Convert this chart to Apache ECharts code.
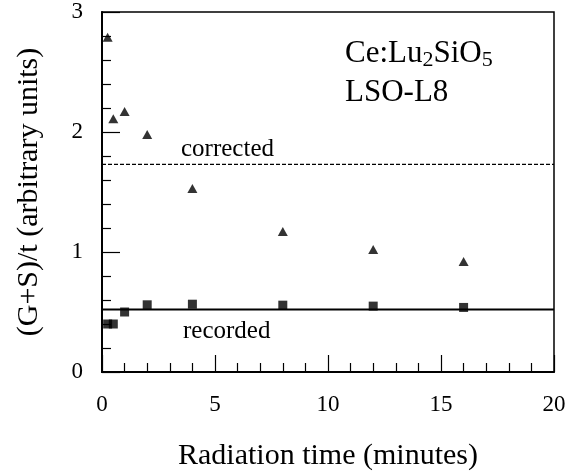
<!DOCTYPE html>
<html>
<head>
<meta charset="utf-8">
<script src="https://cdn.jsdelivr.net/npm/echarts@6/dist/echarts.min.js"></script>
<style>
  html, body { margin: 0; padding: 0; background: #fff; }
  #chart { width: 575px; height: 476px; }
</style>
</head>
<body>
<div id="chart"></div>
<script>
// radiation time (minutes)
const times = [0.25, 0.5, 1, 2, 4, 8, 12, 16]
// triangles
const triangleValues = [2.79, 2.11, 2.17, 1.98, 1.53, 1.17, 1.02, 0.92]
// squares
const squareValues = [0.40, 0.40, 0.50, 0.56, 0.565, 0.557, 0.549, 0.538]
// horizontal reference levels
const lineRange = [0, 20]
const correctedLevel = 1.73
const recordedLevel = 0.52

const xTicks = [0, 5, 10, 15, 20]
const yTicks = [0, 1, 2, 3]

const font = '"Liberation Serif", "DejaVu Serif", serif'

const pairs = (xs, ys) => xs.map((x, i) => [x, ys[i]])
const flat = (level) => lineRange.map(x => [x, level])

const chart = echarts.init(document.getElementById('chart'))

const option = {
  animation: false,
  backgroundColor: '#fff',
  grid: {
    left: 102,
    right: 21,
    top: 12,
    bottom: 103,
    show: true,
    borderColor: '#000',
    borderWidth: 1.5
  },
  xAxis: {
    type: 'value',
    min: xTicks[0],
    max: xTicks[xTicks.length - 1],
    interval: 5,
    name: 'Radiation time (minutes)',
    nameLocation: 'middle',
    nameGap: 69,
    nameTextStyle: { fontFamily: font, fontSize: 30, color: '#000' },
    axisLine: { lineStyle: { color: '#000', width: 2 } },
    axisTick: { inside: true, length: 17, lineStyle: { color: '#000', width: 1.2 } },
    minorTick: { show: true, splitNumber: 5, length: 9, lineStyle: { color: '#000', width: 1.2 } },
    axisLabel: { fontFamily: font, fontSize: 23, color: '#000', margin: 21 },
    splitLine: { show: false }
  },
  yAxis: {
    type: 'value',
    min: yTicks[0],
    max: yTicks[yTicks.length - 1],
    interval: 1,
    name: '(G+S)/t (arbitrary units)',
    nameLocation: 'middle',
    nameGap: 58,
    nameTextStyle: { fontFamily: font, fontSize: 30, color: '#000' },
    axisLine: { show: true, lineStyle: { color: '#000', width: 2 } },
    axisTick: { show: true, inside: true, length: 18, lineStyle: { color: '#000', width: 1.2 } },
    minorTick: { show: true, splitNumber: 5, length: 9, lineStyle: { color: '#000', width: 1.2 } },
    axisLabel: { fontFamily: font, fontSize: 23, color: '#000', margin: 19 },
    splitLine: { show: false }
  },
  graphic: [
    {
      type: 'text', left: 345, top: 38,
      style: {
        text: '{a|Ce:Lu}{b|2}{a|SiO}{b|5}',
        rich: {
          a: { fontFamily: font, fontSize: 31, lineHeight: 36, fill: '#000' },
          b: { fontFamily: font, fontSize: 22, lineHeight: 22, verticalAlign: 'bottom', fill: '#000' }
        }
      }
    },
    {
      type: 'text', left: 345, top: 77,
      style: { text: 'LSO-L8', font: '31px ' + font, fill: '#000' }
    },
    {
      type: 'text', left: 181, top: 137,
      style: { text: 'corrected', font: '25px ' + font, fill: '#000' }
    },
    {
      type: 'text', left: 183, top: 319,
      style: { text: 'recorded', font: '25px ' + font, fill: '#000' }
    }
  ],
  series: [
    {
      name: 'corrected',
      type: 'line',
      data: flat(correctedLevel),
      symbol: 'none',
      lineStyle: { color: '#000', width: 1.3, type: [4, 2] }
    },
    {
      name: 'recorded',
      type: 'line',
      data: flat(recordedLevel),
      symbol: 'none',
      lineStyle: { color: '#000', width: 2 }
    },
    {
      name: 'triangles',
      type: 'scatter',
      data: pairs(times, triangleValues),
      symbol: 'triangle',
      symbolSize: [10, 9],
      itemStyle: { color: '#000' }
    },
    {
      name: 'squares',
      type: 'scatter',
      data: pairs(times, squareValues),
      symbol: 'rect',
      symbolSize: 9,
      itemStyle: { color: '#000' }
    }
  ]
}

chart.setOption(option)
</script>
</body>
</html>
